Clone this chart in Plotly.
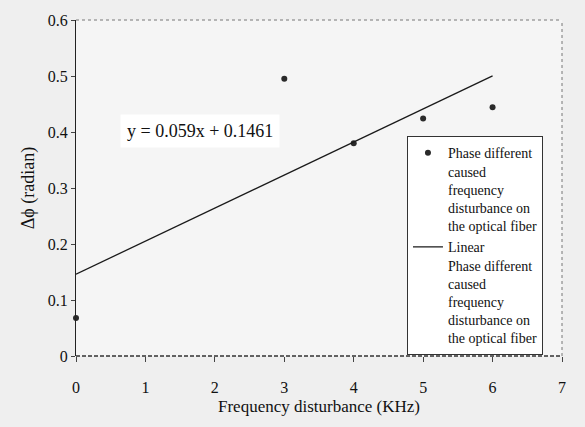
import plotly.graph_objects as go

# Measured phase difference versus applied frequency disturbance
freq_khz = [0, 3, 4, 5, 6]
delta_phi = [0.068, 0.495, 0.380, 0.424, 0.444]

# Linear fit y = slope * x + intercept, drawn over 0..6 kHz
slope = 0.059
intercept = 0.1461
fit_x = [0, 6]
fit_y = [slope * v + intercept for v in fit_x]

x_ticks = [0, 1, 2, 3, 4, 5, 6, 7]
y_ticks = [0, 0.1, 0.2, 0.3, 0.4, 0.5, 0.6]
y_tick_text = ["0", "0.1", "0.2", "0.3", "0.4", "0.5", "0.6"]

series_name = "Phase different<br>caused<br>frequency<br>disturbance on<br>the optical fiber"
fit_name = "Linear<br>Phase different<br>caused<br>frequency<br>disturbance on<br>the optical fiber"
equation = "y = 0.059x + 0.1461"

serif = "Liberation Serif"
tick_font = dict(family=serif, size=16, color="#111")

fig = go.Figure()
fig.add_trace(go.Scatter(
    x=freq_khz, y=delta_phi, mode="markers", name=series_name,
    marker=dict(size=6, color="#2a2a2a"), cliponaxis=False,
))
fig.add_trace(go.Scatter(
    x=fit_x, y=fit_y, mode="lines", name=fit_name,
    line=dict(color="#1a1a1a", width=1.3),
))

# dotted frame on top and right, dashed baseline at bottom
fig.add_shape(type="line", xref="paper", yref="paper", x0=0, x1=1, y0=1, y1=1,
              line=dict(color="#777", width=1, dash="dot"))
fig.add_shape(type="line", xref="paper", yref="paper", x0=1, x1=1, y0=0, y1=1,
              line=dict(color="#777", width=1, dash="dot"))
fig.add_shape(type="line", xref="paper", yref="paper", x0=0, x1=1, y0=0, y1=0,
              line=dict(color="#333", width=1.3, dash="4px,2px"))

fig.add_annotation(
    x=1.79, y=0.401, xref="x", yref="y", text=equation, showarrow=False,
    font=dict(family=serif, size=18, color="#111"),
    bgcolor="white", borderpad=6,
)

fig.update_layout(
    width=585, height=427,
    margin=dict(l=76, r=23, t=15, b=71),
    paper_bgcolor="#efefef",
    plot_bgcolor="#f5f5f5",
    font=dict(family=serif, size=16, color="#111"),
    showlegend=True,
    legend=dict(
        x=0.681, y=0.654, xanchor="left", yanchor="top",
        bgcolor="white", bordercolor="#333", borderwidth=1,
        font=dict(family=serif, size=14, color="#111"),
        itemwidth=30, tracegroupgap=0, valign="top",
    ),
    xaxis=dict(
        range=[0, 7], tickvals=x_ticks, ticktext=[str(v) for v in x_ticks],
        tickfont=tick_font,
        showgrid=False, zeroline=False, showline=False,
        ticks="outside", ticklen=5, tickcolor="#444",
        ticklabelstandoff=12,
        title=dict(text="Frequency disturbance (KHz)", font=dict(family=serif, size=17), standoff=4),
    ),
    yaxis=dict(
        range=[0, 0.6], tickvals=y_ticks, ticktext=y_tick_text,
        tickfont=tick_font,
        showgrid=False, zeroline=False, showline=True, linecolor="#222", linewidth=1.2,
        ticks="outside", ticklen=4, tickcolor="#444",
        title=dict(text="Δϕ (radian)", font=dict(family=serif, size=18), standoff=8),
    ),
)

fig.write_html("out.html")
